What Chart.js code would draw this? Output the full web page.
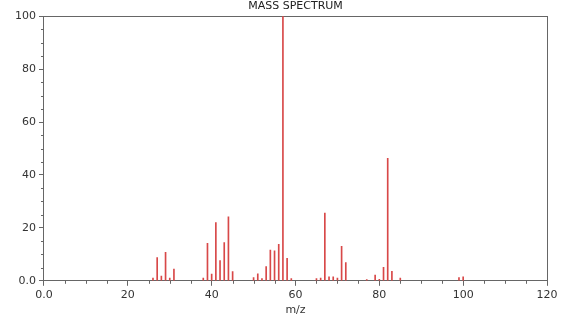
<!DOCTYPE html>
<html>
<head>
<meta charset="utf-8">
<script src="https://cdn.jsdelivr.net/npm/chart.js@4"></script>
<style>
  html, body { margin: 0; padding: 0; background: #fff; }
  #wrap { width: 572px; height: 314px; }
</style>
</head>
<body>
<div id="wrap"><canvas id="chart"></canvas></div>
<script>
const mz = [26, 27, 28, 29, 30, 31, 38, 39, 40, 41, 42, 43, 44, 45, 50, 51, 52, 53, 54, 55, 56, 57, 58, 59,
            65, 66, 67, 68, 69, 70, 71, 72, 77, 79, 80, 81, 82, 83, 85, 99, 100];
const intensity = [1, 8.8, 1.8, 10.8, 1, 4.4, 1, 14.2, 2.5, 22, 7.6, 14.4, 24.2, 3.5, 1.2, 2.6, 0.8, 5.4, 11.6, 11.3, 13.8, 100, 8.5, 0.8,
                   0.8, 1, 25.6, 1.5, 1.5, 1, 13, 6.9, 0.5, 2.2, 0.6, 5.1, 46.3, 3.6, 1, 1.2, 1.5];
const xTicks = [0, 20, 40, 60, 80, 100, 120];
const yTicks = [0, 20, 40, 60, 80, 100];

Chart.defaults.font.family = "'DejaVu Sans', sans-serif";
Chart.defaults.font.size = 11;
Chart.defaults.color = '#333';

const axisColor = '#666';
const fmt = v => v === 0 ? '0.0' : String(v);

// matplotlib-like minor ticks every 5 units
const minorTicks = {
    id: 'minorTicks',
    afterDraw(chart) {
        const ctx = chart.ctx;
        const area = chart.chartArea;
        const x = chart.scales.x, y = chart.scales.y;
        ctx.save();
        ctx.strokeStyle = axisColor;
        ctx.lineWidth = 1;
        ctx.beginPath();
        for (let v = 5; v < 120; v += 5) {
            if (v % 20 === 0) continue;
            const px = Math.round(x.getPixelForValue(v)) + 0.5;
            ctx.moveTo(px, area.bottom);
            ctx.lineTo(px, area.bottom + 3);
        }
        for (let v = 5; v < 100; v += 5) {
            if (v % 20 === 0) continue;
            const py = Math.round(y.getPixelForValue(v)) + 0.5;
            ctx.moveTo(area.left, py);
            ctx.lineTo(area.left - 3, py);
        }
        ctx.stroke();
        ctx.restore();
    }
};

new Chart(document.getElementById('chart'), {
    type: 'bar',
    data: {
        datasets: [{
            data: mz.map((m, i) => ({ x: m, y: intensity[i] })),
            backgroundColor: '#d84848',
            barThickness: 1
        }]
    },
    options: {
        responsive: true,
        maintainAspectRatio: false,
        animation: false,
        layout: { padding: { left: 12, right: 25, top: 0, bottom: -2 } },
        plugins: {
            legend: { display: false },
            tooltip: { enabled: false },
            title: {
                display: true,
                text: 'MASS SPECTRUM',
                fullSize: false,
                color: '#222',
                font: { size: 11, weight: 'normal' },
                padding: { top: 0, bottom: 3 }
            }
        },
        scales: {
            x: {
                type: 'linear',
                min: 0, max: 120,
                offset: false,
                afterBuildTicks: s => { s.ticks = xTicks.map(v => ({ value: v })); },
                ticks: { callback: fmt, maxRotation: 0, padding: 3 },
                grid: { drawOnChartArea: false, offset: false, tickLength: 5, color: axisColor },
                border: { display: true, color: axisColor },
                title: { display: true, text: 'm/z', font: { lineHeight: 1 }, padding: { top: 0, bottom: 0 } }
            },
            y: {
                min: 0, max: 100,
                afterBuildTicks: s => { s.ticks = yTicks.map(v => ({ value: v })); },
                ticks: { callback: fmt, padding: 3 },
                grid: { drawOnChartArea: false, tickLength: 5, color: axisColor },
                border: { display: true, color: axisColor }
            },
            x2: {
                type: 'linear', position: 'top', min: 0, max: 120,
                ticks: { display: false },
                grid: { drawOnChartArea: false, drawTicks: false },
                border: { display: true, color: axisColor }
            },
            y2: {
                type: 'linear', position: 'right', min: 0, max: 100,
                ticks: { display: false },
                grid: { drawOnChartArea: false, drawTicks: false },
                border: { display: true, color: axisColor }
            }
        }
    },
    plugins: [minorTicks]
});
</script>
</body>
</html>
